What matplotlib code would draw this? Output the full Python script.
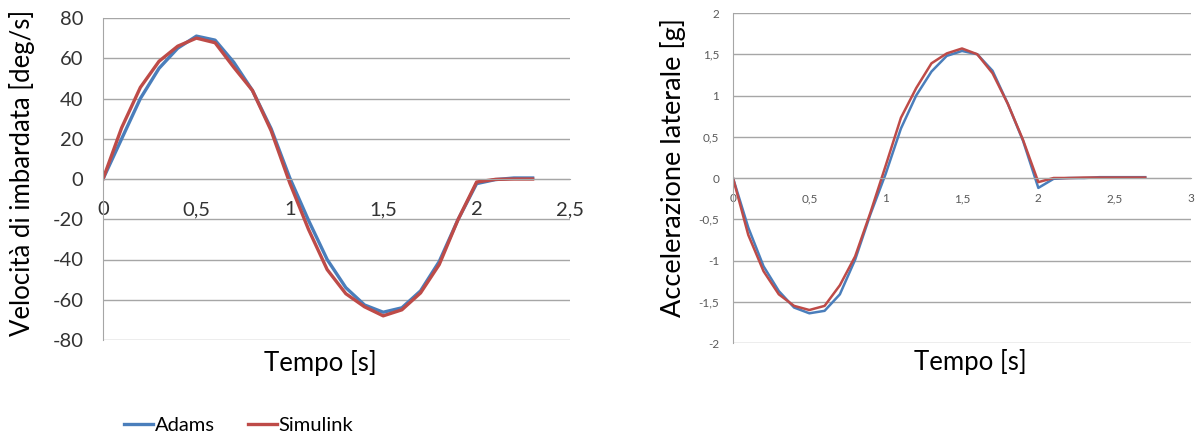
import matplotlib.pyplot as plt
from matplotlib.lines import Line2D

plt.rcParams['font.family'] = ['Lato', 'DejaVu Sans']

# ---------- data ----------
t_yaw = [0, 0.1, 0.2, 0.3, 0.4, 0.5, 0.6, 0.7, 0.8, 0.9, 1.0, 1.1,
         1.2, 1.3, 1.4, 1.5, 1.6, 1.7, 1.8, 1.9, 2.0, 2.1, 2.2, 2.3]
yaw_adams = [0, 20, 40, 55, 65, 71, 69, 58, 44, 25, 0.5, -20.5,
             -40, -54, -62.6, -66.2, -64, -55.6, -41, -20.3, -2.3, -0.3, 0.5, 0.5]
yaw_simulink = [0, 25.5, 45.5, 58.5, 66, 70, 67.7, 55.5, 44, 24, -2, -25,
                -45, -57, -63.5, -68, -65, -56.6, -42.5, -20.3, -1.5, -0.2, 0, 0]

t_acc = [0, 0.1, 0.2, 0.3, 0.4, 0.5, 0.6, 0.7, 0.8, 0.9, 1.0, 1.1, 1.2, 1.3,
         1.4, 1.5, 1.6, 1.7, 1.8, 1.9, 2.0, 2.1, 2.2, 2.3, 2.4, 2.5, 2.6, 2.7]
acc_adams = [0, -0.6, -1.07, -1.37, -1.57, -1.64, -1.61, -1.41, -0.99, -0.44,
             0.05, 0.6, 1.0, 1.29, 1.48, 1.54, 1.5, 1.3, 0.9, 0.45,
             -0.12, -0.01, 0, 0, 0.01, 0.01, 0.01, 0.01]
acc_simulink = [0, -0.69, -1.13, -1.41, -1.55, -1.6, -1.55, -1.3, -0.95, -0.42,
                0.15, 0.73, 1.09, 1.39, 1.51, 1.57, 1.5, 1.27, 0.9, 0.46,
                -0.05, 0, 0, 0.005, 0.005, 0.005, 0.005, 0.005]

xticks_yaw = [0, 0.5, 1, 1.5, 2, 2.5]
yticks_yaw = [-80, -60, -40, -20, 0, 20, 40, 60, 80]
xticks_acc = [0, 0.5, 1, 1.5, 2, 2.5, 3]
yticks_acc = [-2, -1.5, -1, -0.5, 0, 0.5, 1, 1.5, 2]

blue = '#4a7ebb'
red = '#be4b48'
grid_c = '#a6a6a6'


def fmt(v):
    # italian decimal comma, as in the original
    return ('%g' % v).replace('.', ',')


def style_axes(ax, xt, yt, fs, xpad, ypad, label_c):
    # spine position first: moving it resets the tick labels
    ax.spines['bottom'].set_position(('data', 0))
    ax.spines['bottom'].set_color(grid_c)
    for s in ['top', 'right']:
        ax.spines[s].set_visible(False)
    ax.spines['left'].set_color(grid_c)
    ax.set_xlim(xt[0], xt[-1])
    ax.set_ylim(yt[0], yt[-1])
    ax.set_xticks(xt)
    ax.set_yticks(yt)
    ax.set_xticklabels([fmt(v) for v in xt], fontsize=fs, color=label_c)
    ax.set_yticklabels([fmt(v) for v in yt], fontsize=fs, color=label_c)
    ax.grid(axis='y', color=grid_c, lw=1)
    ax.set_axisbelow(True)
    ax.tick_params(axis='both', length=0)
    ax.tick_params(axis='x', pad=xpad)
    ax.tick_params(axis='y', pad=ypad)


fig = plt.figure(figsize=(11.99, 4.32), dpi=100)

# left: yaw rate
ax1 = fig.add_axes([103 / 1199, 92 / 432, 467 / 1199, 322 / 432])
ax1.plot(t_yaw, yaw_adams, color=blue, lw=2.4)
ax1.plot(t_yaw, yaw_simulink, color=red, lw=2.4)
style_axes(ax1, xticks_yaw, yticks_yaw, 14.5, 16, 14, '#333333')
ax1.set_ylabel('Velocità di imbardata [deg/s]', fontsize=18.5)
ax1.yaxis.set_label_coords(-0.146, 0.52)
fig.text(320 / 1199, 1 - 363 / 432, 'Tempo [s]', fontsize=18.5,
         ha='center', va='center')

# right: lateral acceleration
ax2 = fig.add_axes([733 / 1199, 89 / 432, 458 / 1199, 330 / 432])
ax2.plot(t_acc, acc_adams, color=blue, lw=1.8)
ax2.plot(t_acc, acc_simulink, color=red, lw=1.8)
style_axes(ax2, xticks_acc, yticks_acc, 8.5, 11, 10, '#595959')
ax2.set_ylabel('Accelerazione laterale [g]', fontsize=19.5)
ax2.yaxis.set_label_coords(-0.102, 0.533)
fig.text(970 / 1199, 1 - 362 / 432, 'Tempo [s]', fontsize=18.5,
         ha='center', va='center')

handles = [Line2D([], [], color=blue, lw=2.4),
           Line2D([], [], color=red, lw=2.4)]
fig.legend(handles, ['Adams', 'Simulink'], loc='center left',
           bbox_to_anchor=(106 / 1199, 1 - 425 / 432), ncol=2, frameon=False,
           fontsize=14.5, handlelength=1.45, handletextpad=0.1,
           columnspacing=1.6)

fig.savefig('out.png', dpi=100, facecolor='white')
